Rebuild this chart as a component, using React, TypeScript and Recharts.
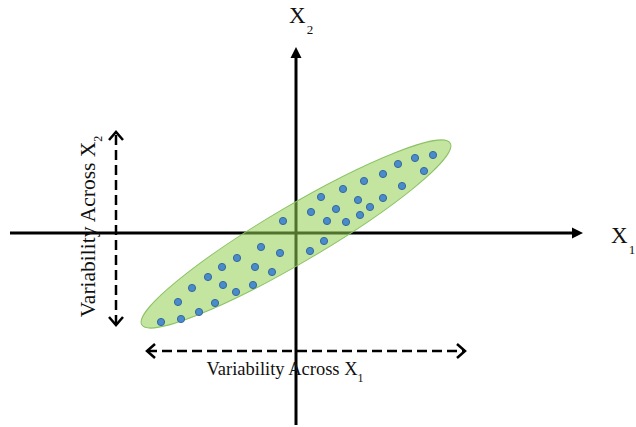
import React from "react";
import { ReferenceLine, Scatter, ScatterChart, XAxis, YAxis } from "recharts";

// observation coordinates, origin at the axes crossing
const x1Values = [
  -135, -115, -118, -97, -81, -104, -88, -73, -60, -74, -59, -43, -41, -24, -35, -16, -13, 14,
  28, 15, 31, 25, 40, 50, 47, 64, 62, 74, 68, 87, 87, 106, 102, 119, 128, 137,
];
const x2Values = [
  -89, -86, -69, -79, -70, -55, -44, -52, -59, -34, -25, -52, -34, -39, -14, -20, 12, -18,
  -8, 21, 12, 36, 24, 11, 44, 18, 33, 26, 52, 35, 59, 47, 69, 75, 62, 78,
];

// axis and spread arrows (start, end)
const axisX1 = [{ x: -286, y: 0 }, { x: 287, y: 0 }];
const axisX2 = [{ x: 0, y: -192 }, { x: 0, y: 186 }];
const spreadX1 = [{ x: -149, y: -118 }, { x: 169, y: -118 }];
const spreadX2 = [{ x: -180, y: -92 }, { x: -180, y: 101 }];
const cloudCenter = [{ x: 0, y: -1 }];

const points = x1Values.map((x, i) => ({ x, y: x2Values[i] }));

const SERIF = "'Liberation Serif', 'Times New Roman', serif";

const arrowHead = (x1: number, y1: number, x2: number, y2: number, len: number, half: number) => {
  const dx = x2 - x1;
  const dy = y2 - y1;
  const d = Math.hypot(dx, dy) || 1;
  const ux = dx / d;
  const uy = dy / d;
  const bx = x2 - ux * len;
  const by = y2 - uy * len;
  return `${bx - uy * half},${by + ux * half} ${x2},${y2} ${bx + uy * half},${by - ux * half}`;
};

const SolidAxis = (props: any) => {
  const { x1, y1, x2, y2, label, sub, lx, ly } = props;
  const len = 11;
  const dx = x2 - x1;
  const dy = y2 - y1;
  const d = Math.hypot(dx, dy) || 1;
  return (
    <g>
      <line
        x1={x1}
        y1={y1}
        x2={x2 - (dx / d) * (len - 1)}
        y2={y2 - (dy / d) * (len - 1)}
        stroke="#000"
        strokeWidth={3}
      />
      <polygon points={arrowHead(x1, y1, x2, y2, len, 5.5)} fill="#000" />
      <text x={x2 + lx} y={y2 + ly} fontFamily={SERIF} fontSize={23} fill="#111">
        {label}
        <tspan fontSize={13} dy={11} dx={1}>
          {sub}
        </tspan>
      </text>
    </g>
  );
};

const DashedArrow = (props: any) => {
  const { x1, y1, x2, y2, vertical } = props;
  const head = (ax: number, ay: number, bx: number, by: number) => (
    <polyline
      points={arrowHead(ax, ay, bx, by, 8, 7)}
      fill="none"
      stroke="#000"
      strokeWidth={2.5}
    />
  );
  const mx = (x1 + x2) / 2;
  const my = (y1 + y2) / 2;
  return (
    <g>
      <line x1={x1} y1={y1} x2={x2} y2={y2} stroke="#000" strokeWidth={2.5} strokeDasharray="10 5" />
      {head(x1, y1, x2, y2)}
      {head(x2, y2, x1, y1)}
      {vertical ? (
        <text
          x={0}
          y={0}
          transform={`translate(${x1 - 21},${my - 2}) rotate(-90)`}
          textAnchor="middle"
          fontFamily={SERIF}
          fontSize={21.5}
          fill="#111"
        >
          Variability Across X
          <tspan fontSize={12} dy={7}>
            2
          </tspan>
        </text>
      ) : (
        <text x={mx - 21} y={y1 + 24} textAnchor="middle" fontFamily={SERIF} fontSize={18.5} fill="#111">
          Variability Across X
          <tspan fontSize={12} dy={7}>
            1
          </tspan>
        </text>
      )}
    </g>
  );
};

const CloudShape = (props: any) => {
  const { cx, cy } = props;
  return (
    <ellipse
      cx={cx}
      cy={cy}
      rx={179}
      ry={28}
      transform={`rotate(-30.5 ${cx} ${cy})`}
      fill="#92d050"
      fillOpacity={0.55}
      stroke="#8bc266"
      strokeWidth={1}
    />
  );
};

const PointShape = (props: any) => {
  const { cx, cy } = props;
  return <circle cx={cx} cy={cy} r={3.6} fill="#4a8bcb" stroke="#36699c" strokeWidth={1} />;
};

export default function App() {
  return (
    <div style={{ width: 636, height: 427, background: "#fff" }}>
      <style>{"body{margin:0}"}</style>
      <ScatterChart width={636} height={427} margin={{ top: 0, right: 0, bottom: 0, left: 0 }}>
        <XAxis type="number" dataKey="x" domain={[-296, 340]} hide allowDataOverflow />
        <YAxis type="number" dataKey="y" domain={[-194, 233]} hide allowDataOverflow />
        <ReferenceLine segment={axisX1} shape={(p: any) => <SolidAxis {...p} label="X" sub="1" lx={28} ly={10} />} />
        <ReferenceLine segment={axisX2} shape={(p: any) => <SolidAxis {...p} label="X" sub="2" lx={-7} ly={-24} />} />
        <ReferenceLine segment={spreadX2} shape={(p: any) => <DashedArrow {...p} vertical />} />
        <ReferenceLine segment={spreadX1} shape={(p: any) => <DashedArrow {...p} />} />
        <Scatter data={cloudCenter} shape={<CloudShape />} isAnimationActive={false} />
        <Scatter data={points} shape={<PointShape />} isAnimationActive={false} />
      </ScatterChart>
    </div>
  );
}
